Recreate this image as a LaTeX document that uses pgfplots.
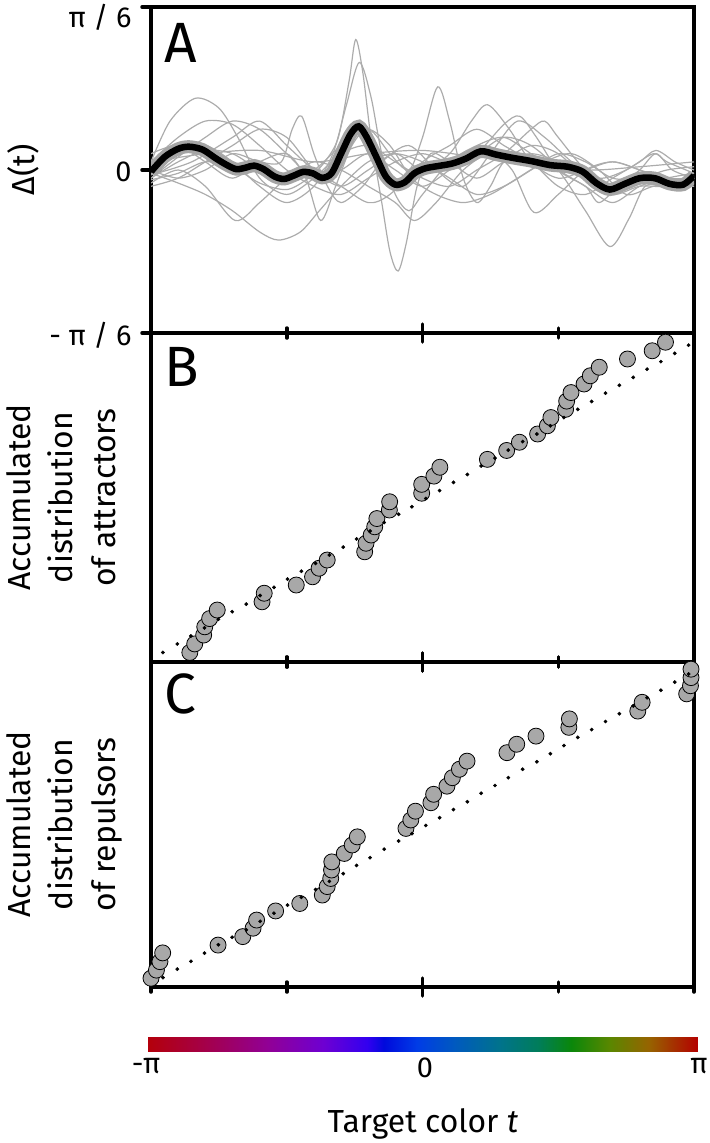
\documentclass[border=0pt]{standalone}
\usepackage{fontspec}
\setmainfont{Fira Sans}
\usepackage{pgfplots}
\usepackage{pgfplotstable}
\pgfplotsset{compat=1.18}

\definecolor{curve}{RGB}{172,172,172}
\definecolor{band}{RGB}{165,165,165}
\definecolor{disc}{RGB}{168,168,168}

\newcommand\ticfont{\fontsize{29}{32}\selectfont}
\newcommand\labfont{\fontsize{32}{43}\selectfont}
\newcommand\letfont{\fontsize{57}{60}\selectfont}

% x in units of pi, panel A y in units of pi/6
\pgfplotstableread{
x y
-0.857 0.029
-0.839 0.055
-0.806 0.082
-0.802 0.107
-0.784 0.132
-0.756 0.158
-0.591 0.183
-0.583 0.209
-0.465 0.234
-0.405 0.259
-0.381 0.285
-0.351 0.310
-0.213 0.335
-0.208 0.361
-0.189 0.386
-0.176 0.411
-0.168 0.436
-0.122 0.462
-0.121 0.487
-0.003 0.513
-0.003 0.540
0.042 0.565
0.064 0.592
0.239 0.616
0.310 0.643
0.357 0.668
0.424 0.693
0.460 0.718
0.473 0.743
0.527 0.768
0.531 0.793
0.547 0.819
0.595 0.845
0.618 0.870
0.651 0.896
0.755 0.921
0.846 0.946
0.895 0.972
}\attractors

\pgfplotstableread{
x y
-1.000 0.027
-0.980 0.052
-0.967 0.078
-0.957 0.105
-0.753 0.129
-0.662 0.155
-0.624 0.181
-0.611 0.206
-0.541 0.234
-0.452 0.257
-0.369 0.283
-0.351 0.309
-0.338 0.334
-0.335 0.360
-0.334 0.385
-0.288 0.411
-0.259 0.437
-0.240 0.462
-0.061 0.488
-0.043 0.514
-0.026 0.541
0.031 0.567
0.041 0.593
0.090 0.618
0.110 0.644
0.136 0.670
0.164 0.695
0.311 0.721
0.347 0.747
0.418 0.772
0.539 0.799
0.541 0.825
0.793 0.849
0.809 0.876
0.973 0.902
0.987 0.927
0.989 0.952
0.989 0.978
}\repulsors

\pgfplotstableread{
x y
-0.956 0.029
-0.903 0.055
-0.853 0.079
-0.803 0.104
-0.752 0.130
-0.701 0.153
-0.649 0.176
-0.598 0.202
-0.547 0.227
-0.497 0.252
-0.446 0.276
-0.394 0.300
-0.343 0.325
-0.292 0.349
-0.243 0.374
-0.193 0.398
-0.141 0.424
-0.088 0.449
-0.039 0.472
0.012 0.497
0.063 0.521
0.114 0.546
0.165 0.570
0.216 0.596
0.267 0.620
0.316 0.644
0.369 0.670
0.421 0.693
0.471 0.718
0.521 0.743
0.572 0.768
0.623 0.792
0.674 0.817
0.725 0.841
0.776 0.865
0.827 0.890
0.878 0.913
0.929 0.938
0.980 0.963
}\uniform

\pgfplotstableread{
x y
-1.000 -0.010
-0.950 0.080
-0.900 0.130
-0.860 0.143
-0.810 0.125
-0.760 0.070
-0.720 0.030
-0.685 0.005
-0.650 0.015
-0.620 0.027
-0.585 0.005
-0.545 -0.040
-0.510 -0.055
-0.475 -0.035
-0.440 -0.012
-0.405 -0.020
-0.370 -0.048
-0.335 -0.020
-0.300 0.100
-0.265 0.220
-0.235 0.268
-0.205 0.200
-0.170 0.080
-0.135 -0.040
-0.100 -0.090
-0.065 -0.075
-0.030 -0.020
0.010 0.010
0.060 0.025
0.110 0.040
0.160 0.070
0.215 0.115
0.270 0.095
0.330 0.075
0.400 0.055
0.470 0.030
0.535 0.020
0.590 -0.010
0.640 -0.080
0.690 -0.120
0.745 -0.085
0.800 -0.050
0.855 -0.050
0.910 -0.085
0.960 -0.090
1.000 -0.035
}\meanbias

\pgfplotsset{
  colormap={hue}{rgb255(0cm)=(180,0,10) rgb255(10cm)=(165,0,70) rgb255(22cm)=(145,0,150)
    rgb255(32cm)=(110,0,210) rgb255(40cm)=(50,0,240) rgb255(43cm)=(0,10,220) rgb255(49cm)=(0,60,230)
    rgb255(56cm)=(0,90,190) rgb255(64cm)=(0,115,140) rgb255(71cm)=(0,125,90) rgb255(77cm)=(10,135,10)
    rgb255(84cm)=(90,135,0) rgb255(91cm)=(150,100,0) rgb255(100cm)=(180,0,0)},
  panel/.style={scale only axis, width=543bp, xmin=-1, xmax=1,
    axis line style={line width=3.3bp},
    tick align=center, major tick length=10bp,
    tick style={black, line width=3.5bp, line cap=round}},
  xpanel/.style={panel, ymin=0, ymax=1, ytick=\empty, clip=false,
    xtick={-1,-0.5,0.5,1}, xticklabels={}, xtick pos=both,
    extra x ticks={0}, extra x tick labels={}, extra x tick style={major tick length=18bp}},
  gcurve/.style={curve, line width=1.2bp, smooth},
  discs/.style={only marks, mark=*, mark size=8bp, mark options={fill=disc, draw=black, line width=0.8bp}},
  dots/.style={only marks, mark=*, mark size=1.7bp, black},
}

\begin{document}
\begin{tikzpicture}
\path[use as bounding box] (0,0) rectangle (710bp,-1143bp);

% ---- A
\begin{axis}[panel, at={(151bp,-7bp)}, anchor=north west, height=326bp,
  ymin=-1, ymax=1, xtick=\empty, ytick pos=left, major tick length=18bp,
  ytick={-1,0}, yticklabels={{- π / 6},{0}},
  extra y ticks={1}, extra y tick labels={{π / 6}},
  extra y tick style={yticklabel style={yshift=-8bp}},
  yticklabel style={font=\ticfont, xshift=-7bp, yshift=-2bp}, clip=true]
\addplot[gcurve] coordinates {(-1,-0.06) (-0.9,-0.02) (-0.8,0.05) (-0.7,0.02) (-0.6,-0.08) (-0.5,-0.12) (-0.42,-0.05) (-0.36,0.05) (-0.31,0.2) (-0.27,0.55) (-0.246,0.80) (-0.22,0.6) (-0.19,0.2) (-0.15,-0.2) (-0.12,-0.5) (-0.09,-0.62) (-0.06,-0.45) (-0.02,-0.1) (0.03,0.1) (0.1,0.05) (0.2,-0.05) (0.3,0.05) (0.4,0.1) (0.5,0.05) (0.6,-0.05) (0.7,-0.1) (0.8,-0.05) (0.9,-0.08) (1,-0.05)};
\addplot[gcurve] coordinates {(-1,0.0) (-0.9,0.1) (-0.8,0.15) (-0.7,0.05) (-0.6,-0.1) (-0.5,-0.2) (-0.4,-0.1) (-0.33,0.1) (-0.28,0.4) (-0.233,0.66) (-0.19,0.45) (-0.15,0.1) (-0.1,-0.15) (-0.05,-0.25) (0.0,-0.15) (0.1,0.05) (0.2,0.15) (0.3,0.2) (0.4,0.1) (0.5,0.0) (0.6,-0.1) (0.7,-0.2) (0.8,-0.1) (0.9,-0.05) (1,-0.02)};
\addplot[gcurve] coordinates {(-1,-0.05) (-0.9,0.05) (-0.8,0.12) (-0.7,0.1) (-0.6,0.0) (-0.5,-0.05) (-0.4,0.0) (-0.3,0.15) (-0.2,0.25) (-0.12,0.1) (-0.05,0.0) (0.0,0.2) (0.056,0.51) (0.1,0.3) (0.15,-0.05) (0.2,-0.2) (0.25,-0.1) (0.3,0.05) (0.4,0.15) (0.5,0.1) (0.6,-0.05) (0.7,-0.15) (0.8,-0.1) (0.9,-0.1) (1,-0.05)};
\addplot[gcurve] coordinates {(-1,-0.02) (-0.9,-0.08) (-0.8,-0.15) (-0.7,-0.25) (-0.6,-0.38) (-0.53,-0.43) (-0.45,-0.38) (-0.38,-0.25) (-0.3,-0.1) (-0.2,0.05) (-0.1,0.1) (0.0,0.05) (0.1,-0.05) (0.2,-0.15) (0.3,-0.1) (0.4,0.0) (0.5,0.1) (0.6,0.05) (0.7,-0.05) (0.8,-0.05) (0.9,0.0) (1,0.02)};
\addplot[gcurve] coordinates {(-1,0.05) (-0.9,0.2) (-0.8,0.3) (-0.7,0.28) (-0.6,0.15) (-0.5,0.0) (-0.4,-0.1) (-0.3,-0.15) (-0.2,-0.05) (-0.1,0.05) (0.0,0.1) (0.1,0.05) (0.2,0.1) (0.3,0.2) (0.4,0.15) (0.5,0.0) (0.6,-0.25) (0.69,-0.47) (0.76,-0.3) (0.82,-0.1) (0.9,-0.1) (1,-0.08)};
\addplot[gcurve] coordinates {(-1,0.05) (-0.93,0.3) (-0.837,0.44) (-0.75,0.38) (-0.68,0.2) (-0.6,-0.05) (-0.5,-0.15) (-0.4,-0.05) (-0.3,0.1) (-0.2,0.15) (-0.1,0.05) (0.0,-0.05) (0.1,-0.1) (0.2,0.0) (0.3,0.1) (0.4,0.25) (0.45,0.3) (0.5,0.2) (0.6,0.0) (0.7,-0.1) (0.8,-0.05) (0.9,-0.1) (1,-0.1)};
\addplot[gcurve] coordinates {(-1,0.0) (-0.9,-0.05) (-0.8,0.0) (-0.7,0.1) (-0.6,0.05) (-0.52,0.05) (-0.48,0.25) (-0.445,0.33) (-0.40,0.1) (-0.35,-0.1) (-0.3,-0.2) (-0.22,-0.1) (-0.15,0.05) (-0.05,0.15) (0.05,0.0) (0.15,-0.1) (0.25,0.1) (0.35,0.3) (0.45,0.2) (0.55,0.05) (0.65,-0.05) (0.75,0.0) (0.85,0.1) (0.9,0.05) (1,-0.02)};
\addplot[gcurve] coordinates {(-1,0.1) (-0.9,0.15) (-0.8,0.05) (-0.7,-0.05) (-0.6,0.05) (-0.5,0.1) (-0.43,-0.05) (-0.375,-0.31) (-0.32,-0.1) (-0.26,0.15) (-0.2,0.25) (-0.12,0.15) (-0.04,-0.05) (0.05,-0.15) (0.15,-0.2) (0.25,-0.15) (0.35,-0.05) (0.45,0.05) (0.55,0.1) (0.65,0.0) (0.75,-0.15) (0.85,-0.1) (1,-0.05)};
\addplot[gcurve] coordinates {(-1,-0.1) (-0.9,-0.05) (-0.8,0.05) (-0.7,0.15) (-0.6,0.25) (-0.5,0.2) (-0.4,0.0) (-0.3,-0.1) (-0.2,0.0) (-0.1,0.1) (0.0,0.0) (0.1,0.1) (0.18,0.3) (0.24,0.40) (0.32,0.25) (0.4,0.05) (0.5,-0.05) (0.6,0.0) (0.7,0.05) (0.8,0.0) (0.9,-0.05) (1,-0.05)};
\addplot[gcurve] coordinates {(-1,-0.05) (-0.9,0.08) (-0.8,0.2) (-0.7,0.3) (-0.6,0.25) (-0.5,0.1) (-0.4,-0.05) (-0.3,0.0) (-0.2,0.1) (-0.1,0.0) (0.0,-0.1) (0.1,0.0) (0.2,0.1) (0.3,0.28) (0.358,0.33) (0.42,0.2) (0.5,0.0) (0.6,-0.1) (0.65,-0.2) (0.72,-0.1) (0.8,0.0) (0.86,0.1) (0.92,0.0) (1,-0.05)};
\addplot[gcurve] coordinates {(-1,-0.08) (-0.9,0.0) (-0.8,-0.1) (-0.69,-0.31) (-0.6,-0.2) (-0.5,-0.05) (-0.4,0.05) (-0.3,0.0) (-0.2,-0.1) (-0.1,-0.2) (-0.03,-0.31) (0.05,-0.2) (0.15,0.0) (0.25,0.1) (0.33,0.0) (0.41,-0.26) (0.5,-0.15) (0.6,0.0) (0.7,0.05) (0.8,0.0) (0.9,-0.08) (1,-0.1)};
\addplot[gcurve] coordinates {(-1,0.05) (-0.8,0.1) (-0.6,0.12) (-0.4,0.05) (-0.2,0.1) (0.0,0.12) (0.2,0.08) (0.4,0.05) (0.6,0.0) (0.8,0.02) (1,0.05)};
\addplot[gcurve] coordinates {(-1,-0.03) (-0.85,0.05) (-0.7,0.2) (-0.6,0.3) (-0.5,0.15) (-0.4,0.0) (-0.3,-0.1) (-0.2,-0.2) (-0.12,-0.15) (0.0,0.05) (0.1,0.15) (0.2,0.25) (0.3,0.15) (0.4,0.05) (0.5,-0.1) (0.6,-0.15) (0.7,-0.05) (0.8,0.05) (0.86,0.12) (0.93,0.05) (1,0.0)};
\addplot[band, line width=13bp, smooth] table {\meanbias};
\addplot[black, line width=6.5bp, smooth] table {\meanbias};
\end{axis}

% ---- B
\begin{axis}[xpanel, at={(151bp,-333bp)}, anchor=north west, height=329bp]
\addplot[discs] table {\attractors};
\addplot[dots] table {\uniform};
\end{axis}

% ---- C, with the hue bar below it
\begin{axis}[xpanel, at={(151bp,-662bp)}, anchor=north west, height=325bp,
  colormap name=hue, point meta min=-1, point meta max=1,
  colorbar horizontal,
  colorbar style={at={(parent axis.south)}, anchor=north, yshift=-32bp,
    scale only axis, width=551bp, height=24bp,
    xtick=\empty, axis line style={draw=none}}]
\addplot[discs] table {\repulsors};
\addplot[dots] table {\uniform};
\end{axis}

% labels
\node[anchor=north, inner sep=0, font=\ticfont] at (146bp,-1058bp) {-π};
\node[anchor=north, inner sep=0, font=\ticfont] at (425bp,-1058bp) {0};
\node[anchor=north, inner sep=0, font=\ticfont] at (699bp,-1058bp) {π};
\node[rotate=90, anchor=north, inner sep=0, font=\labfont] at (7bp,-170bp) {Δ(t)};
\node[rotate=90, anchor=north, inner sep=0, align=center, font=\labfont] at (6bp,-497.5bp) {Accumulated\\distribution\\of attractors};
\node[rotate=90, anchor=north, inner sep=0, align=center, font=\labfont] at (6bp,-824.5bp) {Accumulated\\distribution\\of repulsors};
\node[anchor=base, inner sep=0, font=\labfont] at (423bp,-1132bp) {Target color \textit{t}};
\node[anchor=north west, inner sep=0, font=\letfont] at (164bp,-23bp) {A};
\node[anchor=north west, inner sep=0, font=\letfont] at (164bp,-347bp) {B};
\node[anchor=north west, inner sep=0, font=\letfont] at (164bp,-673bp) {C};
\end{tikzpicture}
\end{document}
